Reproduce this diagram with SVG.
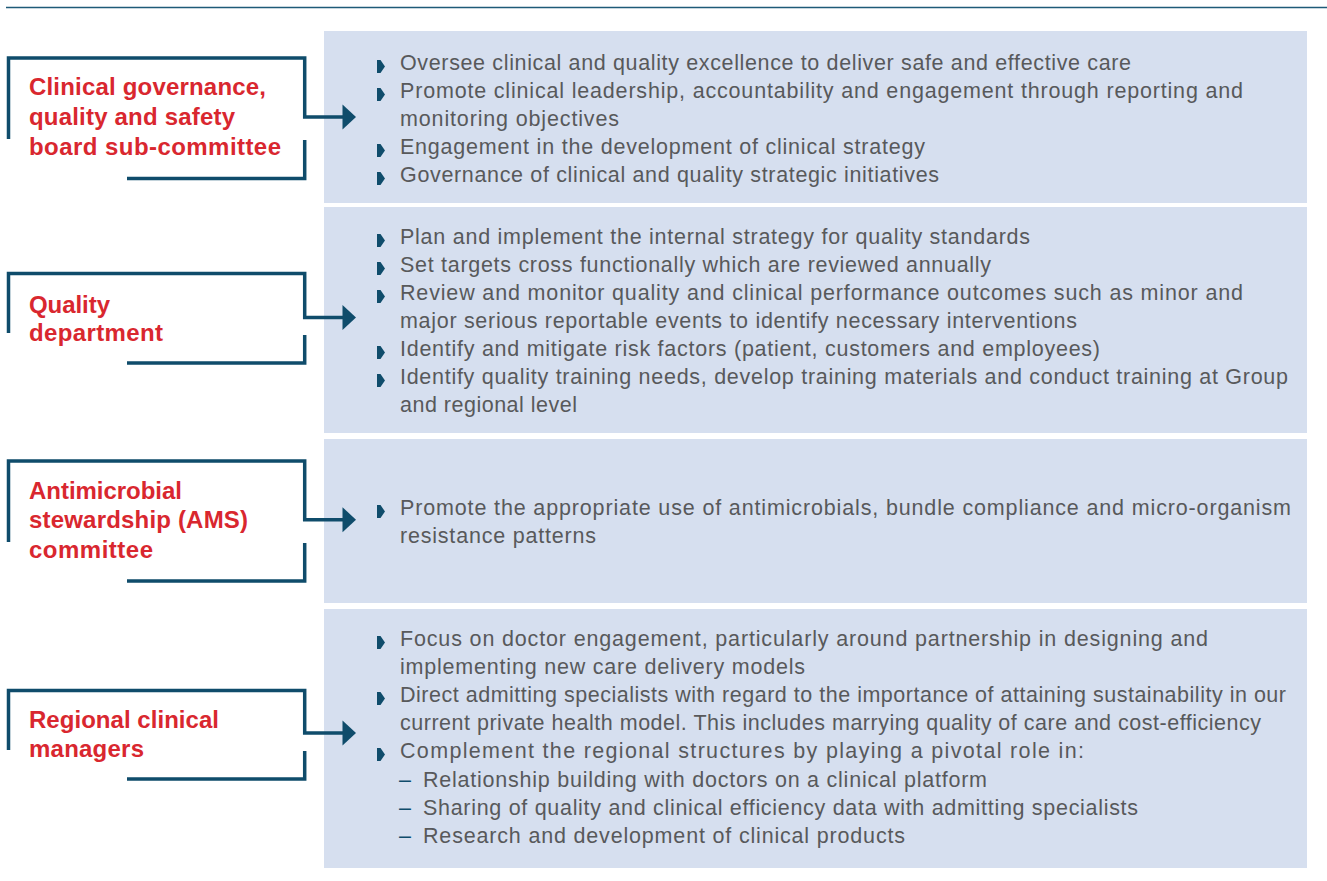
<svg xmlns="http://www.w3.org/2000/svg" xmlns:xlink="http://www.w3.org/1999/xlink" width="1327" height="881" viewBox="0 0 1327 881">
<defs>
<style>
.panel{fill:#d6dfef}
.br{fill:none;stroke:#0f4c6b;stroke-width:3.5;stroke-linejoin:miter;stroke-linecap:butt}
.ah{fill:#0f4c6b}
.lbl{font-family:"Liberation Sans",Arial,sans-serif;font-size:24px;font-weight:bold;fill:#d9272f}
.tx{font-family:"Liberation Sans",Arial,sans-serif;font-size:21.5px;fill:#58595b}
.dash{font-family:"Liberation Sans",Arial,sans-serif;font-size:21.5px;fill:#0f4c6b}
.bul{fill:#0f4c6b}
</style>
<path id="b" class="bul" d="M0,-10 H3.5 L8,-3.5 L3.5,3 H0 Z"/>
</defs>
<rect width="1327" height="881" fill="#ffffff"/>
<line x1="6" y1="7.5" x2="1327" y2="7.5" stroke="#1e5a78" stroke-width="1.5"/>

<g id="panels">
<rect class="panel" x="324" y="31" width="983" height="172"/>
<rect class="panel" x="324" y="207" width="983" height="226"/>
<rect class="panel" x="324" y="439" width="983" height="164"/>
<rect class="panel" x="324" y="609" width="983" height="259"/>
</g>

<g id="connectors">
<path class="br" d="M8.5,139 V58 H304.7 V117 H344"/>
<polygon class="ah" points="342.5,104.5 356,117 342.5,129.5"/>
<path class="br" d="M304.7,140 V178.5 H127"/>

<path class="br" d="M8.5,333 V273.5 H304.7 V317.5 H344"/>
<polygon class="ah" points="342.5,305 356,317.5 342.5,330"/>
<path class="br" d="M304.7,335 V363 H127"/>

<path class="br" d="M8.5,542 V461 H304.7 V519.7 H344"/>
<polygon class="ah" points="342.5,507.2 356,519.7 342.5,532.2"/>
<path class="br" d="M304.7,543 V581 H127"/>

<path class="br" d="M8.5,750 V690.5 H304.7 V733 H344"/>
<polygon class="ah" points="342.5,720.5 356,733 342.5,745.5"/>
<path class="br" d="M304.7,751 V779 H127"/>
</g>

<g id="node-clinical-governance">
<text class="lbl" x="29" y="95" textLength="237">Clinical governance,</text>
<text class="lbl" x="29" y="125" textLength="206">quality and safety</text>
<text class="lbl" x="29" y="155" textLength="252">board sub-committee</text>
</g>
<g id="node-clinical-governance-items">
<use xlink:href="#b" x="377" y="70"/><text class="tx" x="400" y="70" textLength="731">Oversee clinical and quality excellence to deliver safe and effective care</text>
<use xlink:href="#b" x="377" y="98"/><text class="tx" x="400" y="98" textLength="843">Promote clinical leadership, accountability and engagement through reporting and</text>
<text class="tx" x="400" y="126" textLength="219">monitoring objectives</text>
<use xlink:href="#b" x="377" y="154"/><text class="tx" x="400" y="154" textLength="525">Engagement in the development of clinical strategy</text>
<use xlink:href="#b" x="377" y="182"/><text class="tx" x="400" y="182" textLength="539">Governance of clinical and quality strategic initiatives</text>
</g>

<g id="node-quality-department">
<text class="lbl" x="29" y="313" textLength="81">Quality</text>
<text class="lbl" x="29" y="341" textLength="134">department</text>
</g>
<g id="node-quality-department-items">
<use xlink:href="#b" x="377" y="244"/><text class="tx" x="400" y="244" textLength="630">Plan and implement the internal strategy for quality standards</text>
<use xlink:href="#b" x="377" y="272"/><text class="tx" x="400" y="272" textLength="591">Set targets cross functionally which are reviewed annually</text>
<use xlink:href="#b" x="377" y="300"/><text class="tx" x="400" y="300" textLength="843">Review and monitor quality and clinical performance outcomes such as minor and</text>
<text class="tx" x="400" y="328" textLength="677">major serious reportable events to identify necessary interventions</text>
<use xlink:href="#b" x="377" y="356"/><text class="tx" x="400" y="356" textLength="700">Identify and mitigate risk factors (patient, customers and employees)</text>
<use xlink:href="#b" x="377" y="384"/><text class="tx" x="400" y="384" textLength="888">Identify quality training needs, develop training materials and conduct training at Group</text>
<text class="tx" x="400" y="412" textLength="177">and regional level</text>
</g>

<g id="node-ams-committee">
<text class="lbl" x="29" y="499" textLength="153">Antimicrobial</text>
<text class="lbl" x="29" y="528" textLength="219">stewardship (AMS)</text>
<text class="lbl" x="29" y="558" textLength="124">committee</text>
</g>
<g id="node-ams-committee-items">
<use xlink:href="#b" x="377" y="515"/><text class="tx" x="400" y="515" textLength="891">Promote the appropriate use of antimicrobials, bundle compliance and micro-organism</text>
<text class="tx" x="400" y="543" textLength="196">resistance patterns</text>
</g>

<g id="node-regional-clinical-managers">
<text class="lbl" x="29" y="728" textLength="190">Regional clinical</text>
<text class="lbl" x="29" y="757" textLength="115">managers</text>
</g>
<g id="node-regional-clinical-managers-items">
<use xlink:href="#b" x="377" y="646"/><text class="tx" x="400" y="646" textLength="808">Focus on doctor engagement, particularly around partnership in designing and</text>
<text class="tx" x="400" y="674" textLength="405">implementing new care delivery models</text>
<use xlink:href="#b" x="377" y="702"/><text class="tx" x="400" y="702" textLength="886">Direct admitting specialists with regard to the importance of attaining sustainability in our</text>
<text class="tx" x="400" y="730" textLength="861">current private health model. This includes marrying quality of care and cost-efficiency</text>
<use xlink:href="#b" x="377" y="758"/><text class="tx" x="400" y="758" textLength="684">Complement the regional structures by playing a pivotal role in:</text>
<text class="dash" x="399" y="787">–</text><text class="tx" x="423" y="787" textLength="564">Relationship building with doctors on a clinical platform</text>
<text class="dash" x="399" y="815">–</text><text class="tx" x="423" y="815" textLength="715">Sharing of quality and clinical efficiency data with admitting specialists</text>
<text class="dash" x="399" y="843">–</text><text class="tx" x="423" y="843" textLength="482">Research and development of clinical products</text>
</g>
</svg>
